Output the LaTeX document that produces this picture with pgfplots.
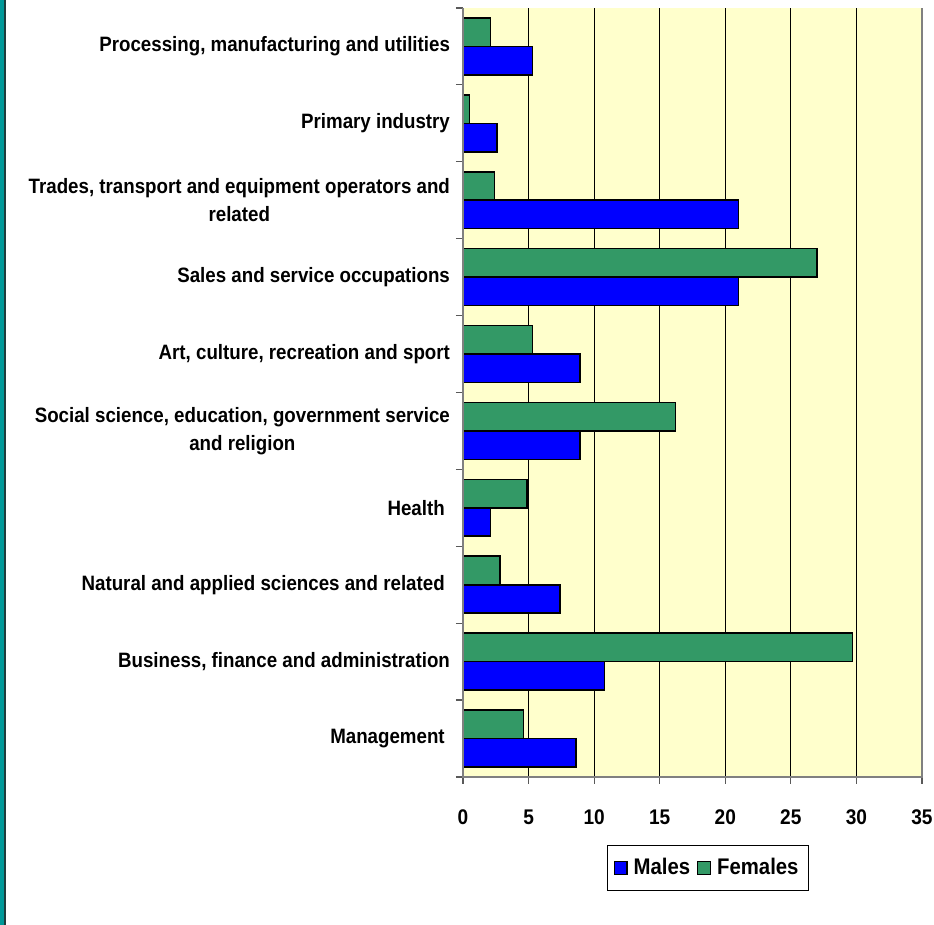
\documentclass[border=0pt]{standalone}
\usepackage{fontspec}
\setmainfont{Liberation Sans}[FakeStretch=0.9]
\usepackage{pgfplots}
\pgfplotsset{compat=1.18}
\definecolor{males}{RGB}{0,0,255}
\definecolor{females}{RGB}{51,153,102}
\definecolor{plotbg}{RGB}{255,255,204}
\definecolor{stripe}{RGB}{0,153,153}
\definecolor{stripedark}{RGB}{30,60,60}
\pgfplotsset{sqlegend/.style={legend image code/.code={\draw[##1,line width=0.6pt] (0pt,-3.2pt) rectangle (6.4pt,3.2pt);}}}
\begin{document}
\begin{tikzpicture}
\path[use as bounding box] (0pt,0pt) rectangle (467pt,462.5pt);
\fill[stripe] (0pt,0pt) rectangle (2pt,462.5pt);
\fill[stripedark] (2pt,0pt) rectangle (3pt,462.5pt);
\begin{axis}[
  at={(231.5pt,74pt)}, anchor=south west,
  width=229.5pt, height=384.5pt, scale only axis,
  xbar, bar width=0.37,
  xmin=0, xmax=35, ymin=-0.5, ymax=9.5,
  xtick={0,5,...,35},
  ytick={-0.5,0.5,...,9.5},
  xtick pos=lower, ytick pos=left,
  y tick label as interval,
  yticklabels={{Management~}, {Business, finance and administration}, {Natural and applied sciences and related~}, {Health~}, {Social science, education, government service\\and religion}, {Art, culture, recreation and sport}, {Sales and service occupations}, {Trades, transport and equipment operators and\\related}, {Primary industry}, {Processing, manufacturing and utilities}},
  xmajorgrids=true,
  major grid style={black, line width=0.5pt},
  axis background/.style={fill=plotbg},
  axis line style={draw=none},
  tick align=outside,
  major tick length=3.5pt,
  tick style={gray!70!black, line width=0.6pt},
  /pgf/number format/assume math mode=true,
  xticklabel style={font=\bfseries\fontsize{10.6}{12}\selectfont, yshift=-9.5pt},
  yticklabel style={font=\bfseries\fontsize{10.4}{14}\selectfont, align=center, xshift=0.5pt},
  legend style={at={(0.534,-0.118)}, anchor=center, legend columns=2, draw=black, line width=0.5pt,
    inner ysep=4.5pt, inner xsep=3pt,
    font=\bfseries\fontsize{11.3}{12}\selectfont,
    /tikz/every odd column/.append style={column sep=1pt},
    /tikz/every even column/.append style={column sep=1.5pt}},
  after end axis/.code={
    \draw[gray, line width=0.8pt] (rel axis cs:0,1) -- (rel axis cs:0,0) -- (rel axis cs:1,0) -- (rel axis cs:1,1);
  },
]
\addplot[fill=males, draw=black, line width=0.8pt, bar shift=-0.185, sqlegend]
  coordinates {(8.6,0) (10.8,1) (7.4,2) (2.1,3) (8.9,4) (8.9,5) (21.0,6) (21.0,7) (2.6,8) (5.3,9)};
\addplot[fill=females, draw=black, line width=0.8pt, bar shift=0.185, sqlegend]
  coordinates {(4.6,0) (29.7,1) (2.8,2) (4.9,3) (16.2,4) (5.3,5) (27.0,6) (2.4,7) (0.5,8) (2.1,9)};
\legend{Males, Females}
\end{axis}
\end{tikzpicture}
\end{document}
